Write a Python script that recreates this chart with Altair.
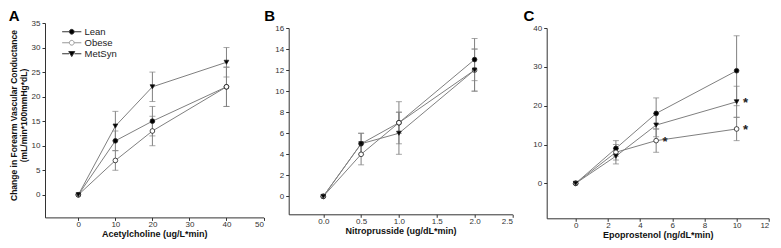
import altair as alt
import pandas as pd

groups = ["Lean", "Obese", "MetSyn"]

# Panel A - Acetylcholine
ach_dose = [0, 10, 20, 40]
ach_lean = [0, 11, 15, 22]
ach_lean_err = [0, 2, 3, 4]
ach_obese = [0, 7, 13, 22]
ach_obese_err = [0, 2, 3, 4]
ach_metsyn = [0, 14, 22, 27]
ach_metsyn_err = [0, 3, 3, 3]

# Panel B - Nitroprusside
snp_dose = [0, 0.5, 1.0, 2.0]
snp_lean = [0, 5, 7, 13]
snp_lean_err = [0, 1, 2, 2]
snp_obese = [0, 4, 7, 12]
snp_obese_err = [0, 1, 1, 2]
snp_metsyn = [0, 5, 6, 12]
snp_metsyn_err = [0, 1, 2, 2]

# Panel C - Epoprostenol
epo_dose = [0, 2.5, 5, 10]
epo_lean = [0, 9, 18, 29]
epo_lean_err = [0, 2, 4, 9]
epo_obese = [0, 8, 11, 14]
epo_obese_err = [0, 2, 3, 3]
epo_metsyn = [0, 7, 15, 21]
epo_metsyn_err = [0, 2, 3, 4]

# significance markers (group, dose index) in panel C
epo_star_group = ["Obese", "MetSyn", "Obese"]
epo_star_index = [2, 3, 3]

FONT = "Liberation Sans"
LINE = "#808080"

marker_shape = {"Lean": "circle", "Obese": "circle", "MetSyn": "triangle-down"}
marker_fill = {"Lean": "black", "Obese": "white", "MetSyn": "black"}

lean_path = "M-3.2,0H-0.8M0.8,0H3.2M0.8,0A0.8,0.8 0 1 1 -0.8,0A0.8,0.8 0 1 1 0.8,0Z"
met_path = "M-3.2,0H-0.9M0.9,0H3.2M-1,-0.75L1,-0.75L0,0.95Z"
legend_paths = [lean_path, lean_path, met_path]
legend_fills = ["black", "white", "black"]
legend_strokes = ["#333333", "#999999", "#333333"]


def make_df(dose, vals, errs):
    rows = []
    for g, v, e in zip(groups, vals, errs):
        for d, vv, ee in zip(dose, v, e):
            rows.append({"group": g, "dose": d, "value": vv, "err": ee,
                         "lo": vv - ee, "hi": vv + ee})
    return pd.DataFrame(rows)


df_a = make_df(ach_dose, [ach_lean, ach_obese, ach_metsyn],
               [ach_lean_err, ach_obese_err, ach_metsyn_err])
df_b = make_df(snp_dose, [snp_lean, snp_obese, snp_metsyn],
               [snp_lean_err, snp_obese_err, snp_metsyn_err])
df_c = make_df(epo_dose, [epo_lean, epo_obese, epo_metsyn],
               [epo_lean_err, epo_obese_err, epo_metsyn_err])

epo_series = {"Lean": epo_lean, "Obese": epo_obese, "MetSyn": epo_metsyn}
df_star = pd.DataFrame({
    "dose": [epo_dose[i] for i in epo_star_index],
    "value": [epo_series[g][i] for g, i in zip(epo_star_group, epo_star_index)],
})
df_legend = pd.DataFrame({"lg": groups, "dose": [0, 0, 0], "value": [0, 0, 0]})


def panel(df, xdom, ydom, xticks, yticks, xfmt, w, h, xtitle, ytitle,
          letter, lx, ly, legend=False, stars=None):
    yaxis_kw = dict(values=yticks, title=ytitle, titleFontSize=8.5,
                    titleLineHeight=10, titlePadding=3,
                    titleFontWeight="bold", titleColor="#111")
    if ytitle is not None:
        yaxis_kw["titleY"] = 92
    yaxis = alt.Axis(**yaxis_kw)
    xs = alt.Scale(domain=xdom, nice=False, zero=False)
    ys = alt.Scale(domain=ydom, nice=False, zero=False)
    x = alt.X("dose:Q", scale=xs,
              axis=alt.Axis(values=xticks, format=xfmt, title=xtitle,
                            titleFontSize=9, titleFontWeight="bold",
                            titleColor="#111", titlePadding=1.5,
                            labelPadding=0))
    y = alt.Y("value:Q", scale=ys, axis=yaxis)
    base = alt.Chart(df)
    errd = base.transform_filter("datum.err > 0")
    rule = errd.mark_rule(color=LINE, strokeWidth=1).encode(
        x=x, y=alt.Y("lo:Q", scale=ys, axis=yaxis), y2="hi:Q")
    cap_lo = errd.mark_tick(color=LINE, orient="horizontal", size=6,
                            thickness=1).encode(
        x=x, y=alt.Y("lo:Q", scale=ys, axis=yaxis))
    cap_hi = errd.mark_tick(color=LINE, orient="horizontal", size=6,
                            thickness=1).encode(
        x=x, y=alt.Y("hi:Q", scale=ys, axis=yaxis))
    line = base.mark_line(color=LINE, strokeWidth=1).encode(
        x=x, y=y, detail="group:N")
    layers = [rule, cap_lo, cap_hi, line]
    for g in groups:
        layers.append(
            base.transform_filter(alt.datum.group == g).mark_point(
                shape=marker_shape[g], filled=True, fill=marker_fill[g],
                stroke="#222", strokeWidth=0.8, opacity=1, size=22).encode(x=x, y=y))
    if legend:
        leg = alt.Legend(title=None, orient="none", legendX=22, legendY=4,
                         symbolSize=36, labelFontSize=9.5, labelFont=FONT,
                         labelColor="#222", labelOffset=8, rowPadding=0,
                         padding=0, symbolStrokeWidth=1, symbolOpacity=1)
        lg = alt.Chart(df_legend).mark_point(filled=True, opacity=0).encode(
            x=x, y=y,
            shape=alt.Shape("lg:N", scale=alt.Scale(domain=groups, range=legend_paths), legend=leg),
            fill=alt.Fill("lg:N", scale=alt.Scale(domain=groups, range=legend_fills), legend=leg),
            stroke=alt.Stroke("lg:N", scale=alt.Scale(domain=groups, range=legend_strokes), legend=leg),
        )
        layers.append(lg)
    if stars is not None:
        st = alt.Chart(stars).mark_text(
            text="*", fontSize=13, fontWeight="bold", font=FONT,
            color="#222", dx=9, dy=1, baseline="middle").encode(x=x, y=y)
        layers.append(st)
    lab = alt.Chart(pd.DataFrame({"t": [letter]})).mark_text(
        align="left", baseline="top", fontSize=15, fontWeight="bold",
        font=FONT, color="#000").encode(
        text="t:N", x=alt.value(lx), y=alt.value(ly))
    layers.append(lab)
    return alt.layer(*layers).properties(width=w, height=h)


A = panel(df_a, [-9, 50], [-4.6, 35], [0, 10, 20, 30, 40, 50], list(range(0, 36, 5)),
          "d", 218.5, 194.4, "Acetylcholine (ug/L*min)",
          ["Change in Forearm Vascular Conductance", "(mL/min*100mmHg*dL)"],
          "A", -36.3, -14.3, legend=True)
B = panel(df_b, [-0.457, 2.5], [-1.7, 16], [0, 0.5, 1.0, 1.5, 2.0, 2.5], list(range(0, 17, 2)),
          ".1f", 223.7, 186.3, "Nitroprusside (ug/dL*min)", None,
          "B", -24.5, -19.3)
C = panel(df_c, [-1.8, 12], [-9, 40], list(range(0, 13, 2)), list(range(0, 41, 10)),
          "d", 222.1, 190.3, "Epoprostenol (ng/dL*min)", None,
          "C", -23.2, -19.3, stars=df_star)

spacer = alt.Chart(pd.DataFrame({"a": [0]})).mark_point(opacity=0).encode(
    x=alt.value(0), y=alt.value(0)).properties(width=1, height=5)
inner = alt.hconcat(B, C, spacing=34.0, bounds="flush")
right = alt.vconcat(spacer, inner, spacing=0, bounds="flush")
chart = alt.hconcat(A, right, spacing=24.7, bounds="flush").properties(
    padding={"left": 0, "top": 0, "right": 0, "bottom": 0}
).configure_view(stroke=None).configure_axis(
    grid=False, domainColor="#333", tickColor="#333", tickSize=3,
    labelFontSize=8, labelColor="#333", labelFont=FONT, titleFont=FONT,
    labelPadding=2, domainWidth=1, tickWidth=1
).configure_legend(labelFont=FONT)

chart.save("out.html", embed_options={"renderer": "svg", "actions": False})
